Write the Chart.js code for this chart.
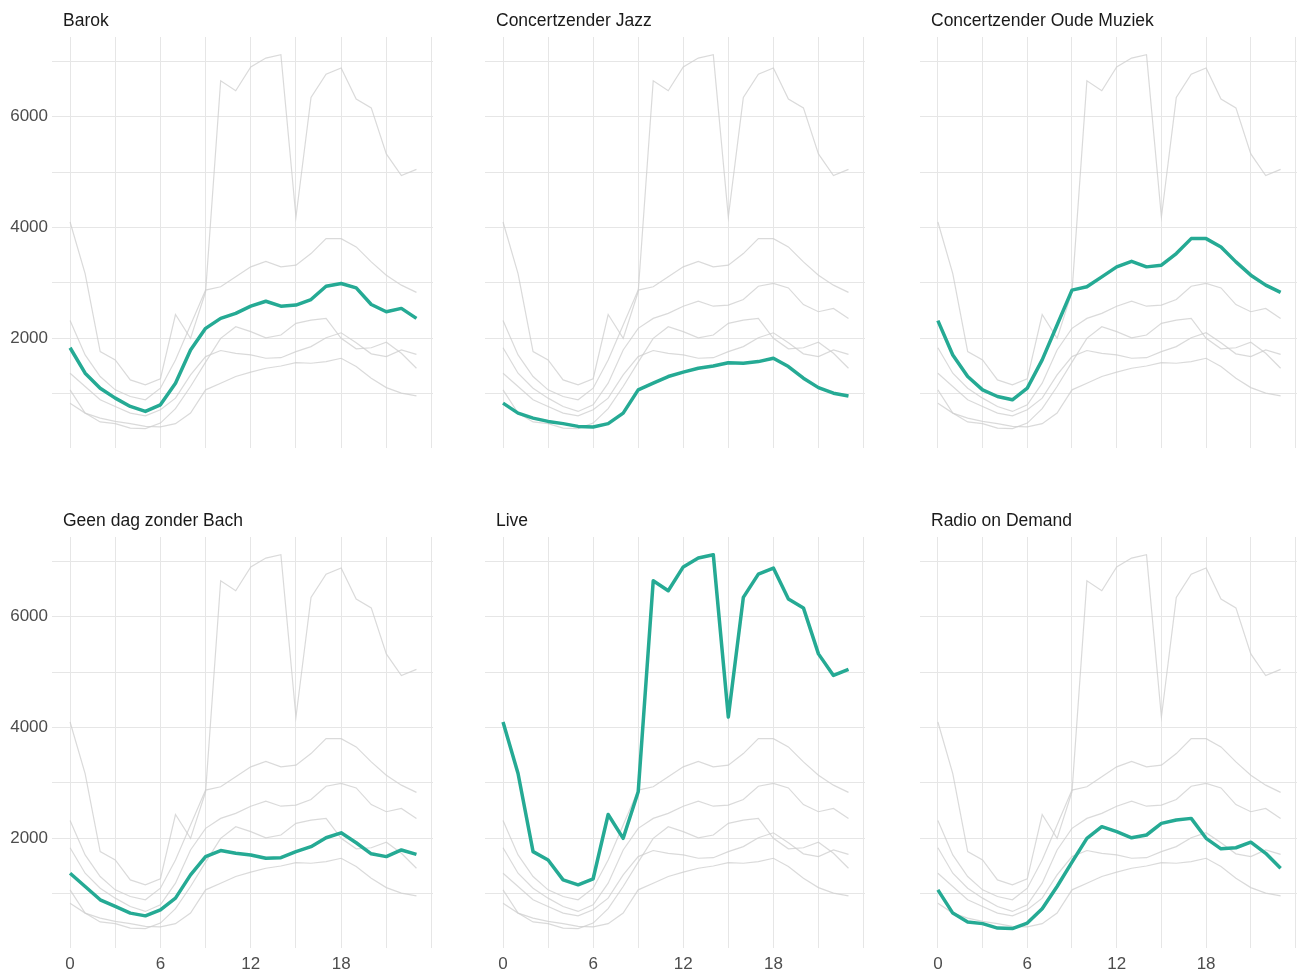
<!DOCTYPE html>
<html>
<head>
<meta charset="utf-8">
<script src="https://cdn.jsdelivr.net/npm/chart.js@4/dist/chart.umd.min.js"></script>
<style>
  body { margin: 0; background: #fff; }
  .panel { position: absolute; }
</style>
</head>
<body>
<div id="wrap" style="position:relative;width:1304px;height:972px;"></div>
<script>
// Listeners per hour of the day, one array per channel
const hours = [0, 1, 2, 3, 4, 5, 6, 7, 8, 9, 10, 11, 12, 13, 14, 15, 16, 17, 18, 19, 20, 21, 22, 23];
const channels = ['Barok', 'Concertzender Jazz', 'Concertzender Oude Muziek', 'Geen dag zonder Bach', 'Live', 'Radio on Demand'];
const barok = [1830, 1370, 1100, 920, 770, 680, 800, 1190, 1790, 2180, 2360, 2450, 2580, 2670, 2580, 2600, 2700, 2940, 2990, 2910, 2610, 2480, 2540, 2360];
const jazz = [830, 650, 560, 500, 460, 410, 400, 460, 650, 1070, 1190, 1310, 1390, 1460, 1500, 1560, 1550, 1580, 1640, 1490, 1280, 1110, 1010, 960];
const oudeMuziek = [2320, 1700, 1310, 1070, 950, 890, 1100, 1610, 2240, 2870, 2930, 3110, 3290, 3390, 3290, 3320, 3530, 3800, 3800, 3650, 3380, 3140, 2960, 2830];
const bach = [1370, 1130, 890, 770, 650, 600, 710, 920, 1340, 1670, 1780, 1730, 1700, 1640, 1650, 1760, 1850, 2010, 2100, 1920, 1720, 1670, 1790, 1710];
const live = [4100, 3170, 1760, 1610, 1250, 1160, 1270, 2430, 2000, 2840, 6650, 6470, 6900, 7060, 7120, 4190, 6350, 6770, 6880, 6320, 6160, 5330, 4940, 5050];
const radio = [1070, 650, 490, 460, 380, 370, 470, 730, 1130, 1570, 2000, 2210, 2120, 2010, 2060, 2270, 2330, 2360, 2000, 1810, 1830, 1930, 1730, 1460];
const series = [barok, jazz, oudeMuziek, bach, live, radio];

const xGrid = [0, 3, 6, 9, 12, 15, 18, 21, 24];
const xLabels = [0, 6, 12, 18];
const yGrid = [1000, 2000, 3000, 4000, 5000, 6000, 7000];
const yLabels = [2000, 4000, 6000];

const TEAL = '#25aa94';
const GREY = 'rgba(205,205,205,0.75)';
const GRID = '#e6e6e6';
const FONT = "'Liberation Sans', Arial, sans-serif";

// facet strip title, left aligned with a small inset like ggplot
const panelTitle = {
  id: 'panelTitle',
  afterDraw(chart, args, opts) {
    const ctx = chart.ctx;
    ctx.save();
    ctx.font = '17.5px ' + FONT;
    ctx.fillStyle = '#1a1a1a';
    ctx.textBaseline = 'alphabetic';
    ctx.textAlign = 'left';
    ctx.fillText(opts.text, chart.chartArea.left + 11, chart.chartArea.top - 11);
    ctx.restore();
  }
};

const colLeft = [52, 485, 920];
const colRight = [433, 865, 1297];
const wrap = document.getElementById('wrap');

channels.forEach((name, i) => {
  const col = i % 3;
  const row = Math.floor(i / 3);
  const yAxisW = col === 0 ? 52 : 0;
  const left = colLeft[col] - yAxisW;
  const width = colRight[col] - left;
  const top = row === 0 ? 0 : 500;
  const xAxisH = row === 1 ? 24 : 0;
  const height = 37 + 411 + xAxisH;

  const div = document.createElement('div');
  div.className = 'panel';
  div.style.left = left + 'px';
  div.style.top = top + 'px';
  div.style.width = width + 'px';
  div.style.height = height + 'px';
  const canvas = document.createElement('canvas');
  div.appendChild(canvas);
  wrap.appendChild(div);

  const datasets = [{
    data: hours.map((h, k) => ({ x: h, y: series[i][k] })),
    borderColor: TEAL,
    borderWidth: 3.5,
    borderJoinStyle: 'round',
    pointRadius: 0,
    order: 0
  }];
  series.forEach((s) => {
    datasets.push({
      data: hours.map((h, k) => ({ x: h, y: s[k] })),
      borderColor: GREY,
      borderWidth: 1.2,
      pointRadius: 0,
      order: 1
    });
  });

  new Chart(canvas, {
    type: 'line',
    data: { datasets: datasets },
    plugins: [panelTitle],
    options: {
      animation: false,
      responsive: true,
      maintainAspectRatio: false,
      layout: { padding: { top: 37, left: 0, right: 0, bottom: 0 } },
      plugins: {
        legend: { display: false },
        tooltip: { enabled: false },
        panelTitle: { text: name }
      },
      scales: {
        x: {
          type: 'linear',
          min: -1.2,
          max: 24.1,
          afterBuildTicks: (axis) => { axis.ticks = xGrid.map(v => ({ value: v })); },
          afterFit: (axis) => {
            axis.height = xAxisH;
            axis.paddingLeft = 0;
            axis.paddingRight = 0;
          },
          grid: { color: GRID, lineWidth: 1, drawTicks: false },
          border: { display: false },
          ticks: {
            display: row === 1,
            autoSkip: false,
            maxRotation: 0,
            padding: 6,
            color: '#4d4d4d',
            font: { family: FONT, size: 17 },
            callback: (v) => xLabels.includes(v) ? String(v) : ''
          }
        },
        y: {
          type: 'linear',
          min: 20,
          max: 7440,
          afterBuildTicks: (axis) => { axis.ticks = yGrid.map(v => ({ value: v })); },
          afterFit: (axis) => {
            axis.width = yAxisW;
            axis.paddingTop = 0;
            axis.paddingBottom = 0;
          },
          grid: { color: GRID, lineWidth: 1, drawTicks: false },
          border: { display: false },
          ticks: {
            display: col === 0,
            padding: 4,
            color: '#4d4d4d',
            font: { family: FONT, size: 17 },
            callback: (v) => yLabels.includes(v) ? String(v) : ''
          }
        }
      }
    }
  });
});
</script>
</body>
</html>
